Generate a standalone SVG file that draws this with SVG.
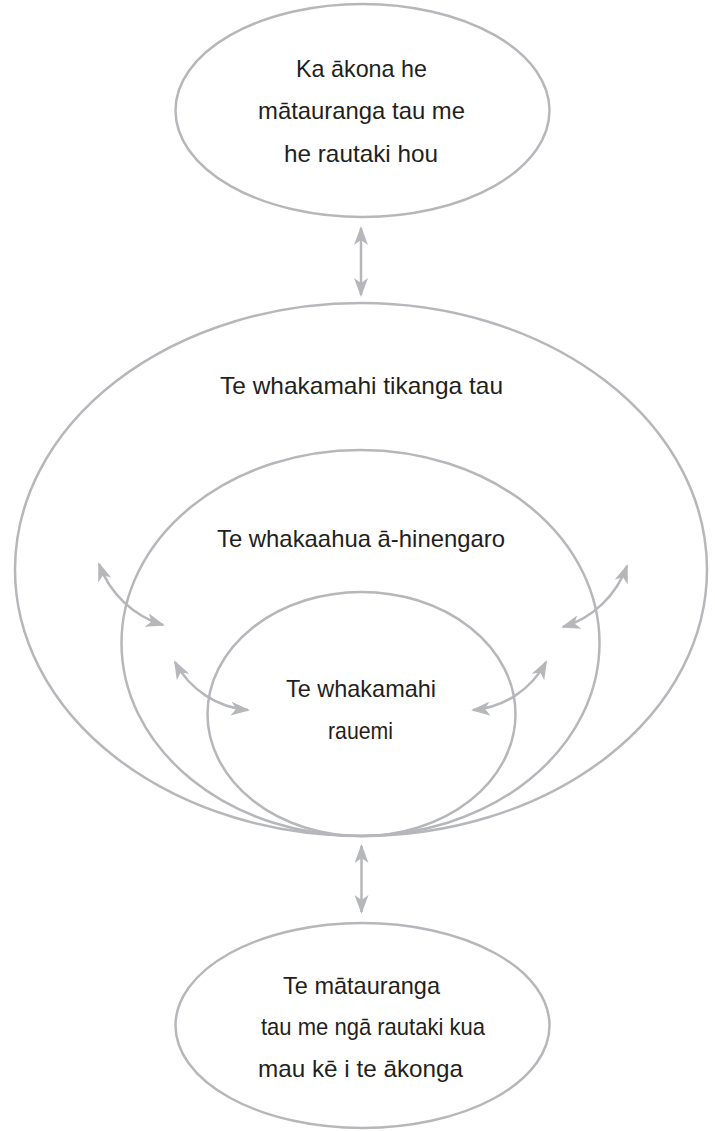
<svg xmlns="http://www.w3.org/2000/svg" width="715" height="1131" viewBox="0 0 715 1131">
<style>
.node ellipse{fill:none;stroke:#b5b7ba;stroke-width:2.5}
.lbl{font-family:"Liberation Sans",Arial,sans-serif;font-size:24px;fill:#231f20}
.conn path{fill:none;stroke:#b5b7ba;stroke-width:2.5;marker-start:url(#ah);marker-end:url(#ah)}
</style>
<defs>
<marker id="ah" markerUnits="userSpaceOnUse" viewBox="0 0 19 14" refX="17" refY="7" markerWidth="19" markerHeight="14" orient="auto-start-reverse">
<path d="M0,0 L19,7 L0,14 L5,7 z" fill="#b5b7ba"/>
</marker>
</defs>
<rect width="715" height="1131" fill="#ffffff"/>
<g id="node-top" class="node">
<ellipse cx="362.5" cy="110.5" rx="187" ry="106.5"/>
<text class="lbl" x="296" y="77" textLength="131" lengthAdjust="spacingAndGlyphs">Ka ākona he</text>
<text class="lbl" x="258" y="119" textLength="207" lengthAdjust="spacingAndGlyphs">mātauranga tau me</text>
<text class="lbl" x="284" y="162" textLength="154" lengthAdjust="spacingAndGlyphs">he rautaki hou</text>
</g>
<g id="node-outer" class="node">
<ellipse cx="361" cy="569.5" rx="346" ry="266.5"/>
<text class="lbl" x="220" y="394" textLength="283" lengthAdjust="spacingAndGlyphs">Te whakamahi tikanga tau</text>
</g>
<g id="node-middle" class="node">
<ellipse cx="360.5" cy="643" rx="239" ry="193"/>
<text class="lbl" x="217" y="547" textLength="288" lengthAdjust="spacingAndGlyphs">Te whakaahua ā-hinengaro</text>
</g>
<g id="node-inner" class="node">
<ellipse cx="361.5" cy="714" rx="154" ry="122"/>
<text class="lbl" x="286" y="697" textLength="150" lengthAdjust="spacingAndGlyphs">Te whakamahi</text>
<text class="lbl" x="328" y="739" textLength="65" lengthAdjust="spacingAndGlyphs">rauemi</text>
</g>
<g id="node-bottom" class="node">
<ellipse cx="362.5" cy="1025.5" rx="187" ry="102.5"/>
<text class="lbl" x="283" y="994" textLength="157" lengthAdjust="spacingAndGlyphs">Te mātauranga</text>
<text class="lbl" x="261" y="1035" textLength="224" lengthAdjust="spacingAndGlyphs">tau me ngā rautaki kua</text>
<text class="lbl" x="258" y="1077" textLength="205" lengthAdjust="spacingAndGlyphs">mau kē i te ākonga</text>
</g>
<g id="connectors" class="conn">
<path d="M361,228 L361,295"/>
<path d="M361.5,846 L361.5,912"/>
<path d="M99,564 A99,99 0 0 0 163,625"/>
<path d="M627,566 A99,99 0 0 1 563,627"/>
<path d="M175,662 A91,91 0 0 0 248,710"/>
<path d="M546,662 A91,91 0 0 1 473,710"/>
</g>
</svg>
